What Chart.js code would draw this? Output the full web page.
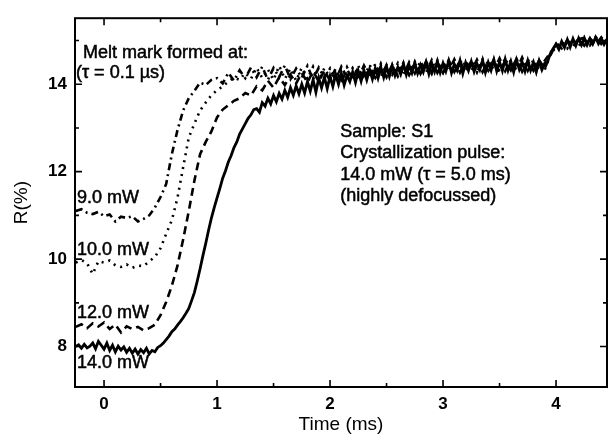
<!DOCTYPE html>
<html>
<head>
<meta charset="utf-8">
<script src="https://cdn.jsdelivr.net/npm/chart.js@4.4.1/dist/chart.umd.min.js"></script>
<style>
  html, body { margin: 0; padding: 0; background: #fff; }
  canvas { display: block; }
</style>
</head>
<body>
<canvas id="reflChart" width="611" height="436"></canvas>
<script>
// reflectivity traces R(%) after the crystallization pulse, one per melt-mark power
const seriesNames = ["9.0 mW", "10.0 mW", "12.0 mW", "14.0 mW"];

// sampling: all traces start at T0; 14 mW trace every 0.025 ms, others every 0.05 ms
const T0 = -0.25;
const DT_FINE = 0.025;
const DT_COARSE = 0.05;

const r14 = [
  8.00, 8.04, 7.96, 8.05, 7.97, 8.01, 8.08, 7.95, 8.12, 8.03,
  7.94, 8.08, 7.91, 8.03, 7.88, 8.01, 7.92, 7.99, 7.87, 7.96,
  7.85, 7.94, 7.83, 7.93, 7.86, 7.96, 7.83, 7.91, 7.88, 7.98,
  8.02, 8.08, 8.16, 8.24, 8.34, 8.40, 8.49, 8.57, 8.66, 8.76,
  8.87, 9.05, 9.24, 9.50, 9.78, 10.08, 10.36, 10.66, 10.94, 11.18,
  11.40, 11.62, 11.85, 12.02, 12.22, 12.37, 12.55, 12.68, 12.86, 12.98,
  13.10, 13.22, 13.30, 13.42, 13.44, 13.36, 13.58, 13.50, 13.68, 13.55,
  13.74, 13.60, 13.79, 13.66, 13.86, 13.70, 13.92, 13.75, 13.96, 13.78,
  14.00, 13.80, 14.06, 13.84, 14.10, 13.82, 14.14, 13.92, 14.16, 13.90,
  14.18, 13.95, 14.22, 14.00, 14.25, 13.98, 14.20, 14.06, 14.28, 14.04,
  14.30, 14.07, 14.32, 14.10, 14.34, 14.12, 14.36, 14.14, 14.38, 14.16,
  14.40, 14.18, 14.42, 14.20, 14.39, 14.23, 14.46, 14.22, 14.43, 14.26,
  14.48, 14.25, 14.44, 14.28, 14.50, 14.24, 14.47, 14.29, 14.52, 14.27,
  14.48, 14.30, 14.53, 14.26, 14.46, 14.32, 14.54, 14.25, 14.49, 14.31,
  14.52, 14.29, 14.47, 14.33, 14.55, 14.27, 14.50, 14.32, 14.56, 14.30,
  14.51, 14.31, 14.57, 14.32, 14.52, 14.28, 14.55, 14.34, 14.51, 14.30,
  14.54, 14.32, 14.50, 14.28, 14.53, 14.33, 14.48, 14.52, 14.70, 14.82,
  14.92, 14.80, 14.98, 14.84, 15.02, 14.85, 15.04, 14.88, 15.05, 14.90,
  15.06, 14.90, 15.04, 14.92, 15.07, 14.93, 15.05, 14.91, 15.03
];

const r12 = [
  8.45, 8.51, 8.42, 8.53, 8.46, 8.55, 8.40, 8.50, 8.32, 8.46,
  8.40, 8.45, 8.37, 8.42, 8.50, 8.72, 9.02, 9.39, 9.85, 10.45,
  11.10, 11.80, 12.40, 12.68, 12.92, 13.24, 13.42, 13.52, 13.62, 13.68,
  13.80, 13.74, 13.95, 13.86, 14.08, 13.92, 14.16, 13.98, 14.22, 14.02,
  14.26, 14.04, 14.30, 14.06, 14.32, 14.08, 14.36, 14.05, 14.34, 14.12,
  14.38, 14.10, 14.36, 14.15, 14.42, 14.16, 14.44, 14.18, 14.45, 14.22,
  14.48, 14.24, 14.52, 14.27, 14.50, 14.26, 14.55, 14.28, 14.51, 14.30,
  14.54, 14.27, 14.52, 14.31, 14.57, 14.28, 14.53, 14.32, 14.58, 14.29,
  14.53, 14.31, 14.55, 14.36, 14.66, 14.92, 14.82, 15.00, 14.86, 15.04,
  14.88, 15.05, 14.90, 15.07, 14.94
];

const r10 = [
  9.92, 9.98, 9.90, 9.66, 9.95, 9.92, 9.97, 9.86, 9.82, 9.88,
  9.80, 9.85, 9.84, 9.95, 10.05, 10.25, 10.58, 10.89, 11.40, 12.10,
  12.78, 13.10, 13.40, 13.58, 13.75, 13.86, 13.95, 14.06, 14.15, 14.10,
  14.26, 14.12, 14.38, 14.14, 14.34, 14.10, 14.42, 14.12, 14.36, 14.08,
  14.38, 14.12, 14.40, 14.08, 14.37, 14.14, 14.33, 14.10, 14.39, 14.12,
  14.42, 14.15, 14.45, 14.14, 14.47, 14.19, 14.42, 14.21, 14.49, 14.22,
  14.51, 14.25, 14.47, 14.24, 14.54, 14.27, 14.52, 14.25, 14.56, 14.29,
  14.52, 14.27, 14.57, 14.30, 14.53, 14.28, 14.60, 14.29, 14.55, 14.31,
  14.57, 14.30, 14.53, 14.33, 14.70, 14.84, 14.98, 14.82, 15.03, 14.87,
  15.05, 14.88, 15.08, 14.90, 15.04
];

const r9 = [
  11.10, 11.14, 11.06, 11.03, 11.08, 10.98, 11.02, 10.86, 10.97, 10.94,
  10.98, 10.86, 10.92, 11.00, 11.18, 11.42, 11.72, 12.40, 12.95, 13.40,
  13.68, 13.85, 14.04, 13.98, 14.10, 14.14, 14.02, 14.26, 14.08, 14.32,
  14.14, 14.38, 14.16, 14.40, 14.10, 14.37, 14.16, 14.43, 14.12, 14.36,
  14.15, 14.42, 14.11, 14.38, 14.14, 14.36, 14.09, 14.40, 14.16, 14.37,
  14.13, 14.43, 14.18, 14.46, 14.17, 14.44, 14.22, 14.48, 14.20, 14.50,
  14.25, 14.52, 14.27, 14.55, 14.26, 14.50, 14.30, 14.57, 14.27, 14.53,
  14.30, 14.56, 14.28, 14.54, 14.33, 14.59, 14.30, 14.55, 14.32, 14.61,
  14.31, 14.55, 14.34, 14.54, 14.72, 14.90, 14.84, 15.00, 14.86, 15.03,
  15.06, 14.89, 15.08, 14.92, 15.06
];

const xTicks = [0, 1, 2, 3, 4];
const xMinor = [0.5, 1.5, 2.5, 3.5];
const yTicks = [8, 10, 12, 14];
const yMinor = [9, 11, 13, 15];

// text placed in data units (left edge, baseline)
const notes = [
  { text: "Melt mark formed at:", x: -0.186, y: 14.61 },
  { text: "(\u03c4 = 0.1 \u00b5s)", x: -0.248, y: 14.14 },
  { text: "Sample: S1", x: 2.09, y: 12.80 },
  { text: "Crystallization pulse:", x: 2.09, y: 12.31 },
  { text: "14.0 mW (\u03c4 = 5.0 ms)", x: 2.09, y: 11.81 },
  { text: "(highly defocussed)", x: 2.09, y: 11.32 },
  { text: "9.0 mW", x: -0.239, y: 11.29 },
  { text: "10.0 mW", x: -0.239, y: 10.10 },
  { text: "12.0 mW", x: -0.239, y: 8.65 },
  { text: "14.0 mW", x: -0.239, y: 7.50 }
];

const FONT = '"Liberation Sans", Arial, Helvetica, sans-serif';

function toPoints(vals, dt) {
  return vals.map((v, i) => ({ x: T0 + i * dt, y: v }));
}

// frame, inward ticks on all four sides and the text notes
const framePlugin = {
  id: 'frame',
  afterDatasetsDraw(chart) {
    const { ctx, chartArea: a, scales: { x, y } } = chart;
    ctx.save();
    ctx.strokeStyle = '#000';
    ctx.lineWidth = 2;
    ctx.strokeRect(a.left, a.top, a.right - a.left, a.bottom - a.top);

    ctx.lineWidth = 1.6;
    ctx.beginPath();
    const xt = (v, len) => {
      const px = x.getPixelForValue(v);
      ctx.moveTo(px, a.bottom); ctx.lineTo(px, a.bottom - len);
      ctx.moveTo(px, a.top); ctx.lineTo(px, a.top + len);
    };
    const yt = (v, len) => {
      const py = y.getPixelForValue(v);
      ctx.moveTo(a.left, py); ctx.lineTo(a.left + len, py);
      ctx.moveTo(a.right, py); ctx.lineTo(a.right - len, py);
    };
    xTicks.forEach(v => xt(v, 7));
    xMinor.forEach(v => xt(v, 4));
    yTicks.forEach(v => yt(v, 7));
    yMinor.forEach(v => yt(v, 4));
    ctx.stroke();

    // slightly heavy lettering
    ctx.fillStyle = '#000';
    ctx.lineWidth = 0.5;
    ctx.font = '18px ' + FONT;
    ctx.textAlign = 'left';
    ctx.textBaseline = 'alphabetic';
    notes.forEach(n => {
      const px = x.getPixelForValue(n.x), py = y.getPixelForValue(n.y);
      ctx.fillText(n.text, px, py);
      ctx.strokeText(n.text, px, py);
    });
    ctx.restore();
  }
};

const styles = [
  { dash: [7, 4, 2, 4], width: 2.6 },   // 9.0 mW, dash-dot
  { dash: [2, 5], width: 2.6 },         // 10.0 mW, dotted
  { dash: [8, 5], width: 2.6 },         // 12.0 mW, dashed
  { dash: [], width: 2.8 }              // 14.0 mW, solid
];

const traces = [toPoints(r9, DT_COARSE), toPoints(r10, DT_COARSE), toPoints(r12, DT_COARSE), toPoints(r14, DT_FINE)];

new Chart(document.getElementById('reflChart'), {
  type: 'line',
  data: {
    datasets: traces.map((pts, i) => ({
      label: seriesNames[i],
      data: pts,
      borderColor: '#000',
      borderWidth: styles[i].width,
      borderDash: styles[i].dash,
      pointRadius: 0,
      tension: 0,
      fill: false
    }))
  },
  options: {
    responsive: false,
    animation: false,
    events: [],
    layout: { padding: { top: 13, right: 4, left: 0, bottom: 0 } },
    plugins: { legend: { display: false }, tooltip: { enabled: false } },
    scales: {
      x: {
        type: 'linear',
        min: -0.257,
        max: 4.451,
        afterBuildTicks: s => { s.ticks = xTicks.map(v => ({ value: v })); },
        afterFit: s => { s.height = 49; },
        grid: { display: false, drawTicks: false },
        border: { display: false },
        ticks: { color: '#000', padding: 7, font: { family: FONT, size: 17, weight: 'bold' } },
        title: { display: true, text: 'Time (ms)', color: '#000', padding: 0, font: { family: FONT, size: 19 } }
      },
      y: {
        type: 'linear',
        min: 7.075,
        max: 15.51,
        afterBuildTicks: s => { s.ticks = yTicks.map(v => ({ value: v })); },
        afterFit: s => { s.width = 75; },
        grid: { display: false, drawTicks: false },
        border: { display: false },
        ticks: { color: '#000', padding: 8, font: { family: FONT, size: 17, weight: 'bold' } },
        title: { display: true, text: 'R(%)', color: '#000', padding: { top: 10, bottom: 0 }, font: { family: FONT, size: 19 } }
      }
    }
  },
  plugins: [framePlugin]
});
</script>
</body>
</html>
